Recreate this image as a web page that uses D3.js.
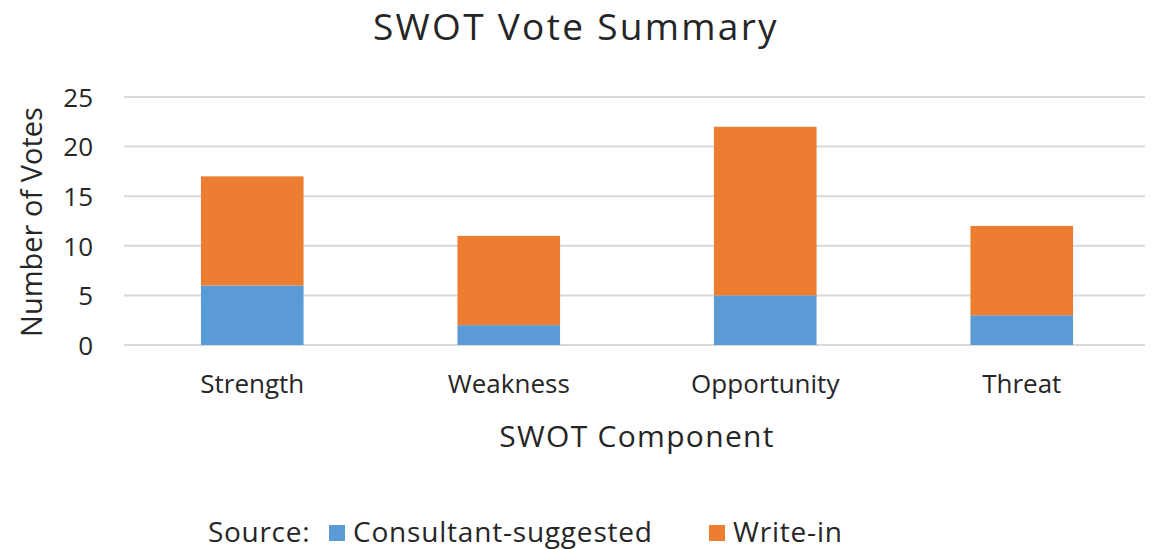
<!DOCTYPE html>
<html><head><meta charset="utf-8">
<script src="https://cdn.jsdelivr.net/npm/d3@7"></script>
<style>body{margin:0;background:#fff}svg{display:block}text{font-family:"Open Sans",sans-serif;fill:#262626}</style>
</head><body><svg id="c" width="1153" height="549"></svg>
<script>
const categories = ["Strength","Weakness","Opportunity","Threat"];
const consultant = [6,2,5,3];
const writeIn = [11,9,17,9];
const yTicks = [0,5,10,15,20,25];
const seriesNames = ["Consultant-suggested","Write-in"];
const colors = ["#5b9bd5","#ed7d31"];

const svg = d3.select("#c");
const x = d3.scaleBand().domain(categories).range([124,1150]).paddingInner(0.6).paddingOuter(0.3);
const y = d3.scaleLinear().domain([0,25]).range([345,97]);

svg.append("g").selectAll("line").data(yTicks).join("line")
  .attr("x1",124).attr("x2",1145).attr("y1",d=>y(d)).attr("y2",d=>y(d))
  .attr("stroke","#d9d9d9").attr("stroke-width",2);

const rows = categories.map((c,i)=>({cat:c, "Consultant-suggested":consultant[i], "Write-in":writeIn[i]}));
const stacked = d3.stack().keys(seriesNames)(rows);
svg.append("g").selectAll("g").data(stacked).join("g").attr("fill",(d,i)=>colors[i])
  .selectAll("rect").data(d=>d).join("rect")
  .attr("x",d=>x(d.data.cat)).attr("width",x.bandwidth())
  .attr("y",d=>y(d[1])).attr("height",d=>y(d[0])-y(d[1]));

const yAxis = svg.append("g").attr("transform","translate(93,0)")
  .call(d3.axisLeft(y).tickValues(yTicks).tickSize(0).tickPadding(0));
yAxis.select(".domain").remove();
yAxis.selectAll("text").style("font-size","26px").attr("fill","#404040").attr("dy","0.36em");

const xAxis = svg.append("g").attr("transform","translate(0,393)")
  .call(d3.axisBottom(x).tickSize(0).tickPadding(0));
xAxis.select(".domain").remove();
xAxis.selectAll("text").style("font-size","26px").attr("fill","#404040").attr("dy","0");

svg.append("text").attr("x",576).attr("y",40).attr("text-anchor","middle").style("font-size","37px").style("letter-spacing","2.3px").text("SWOT Vote Summary");
svg.append("text").attr("x",637).attr("y",447).attr("text-anchor","middle").style("font-size","30px").style("letter-spacing","1.3px").text("SWOT Component");
svg.append("text").attr("transform","translate(42,222) rotate(-90)").attr("text-anchor","middle").style("font-size","29px").text("Number of Votes");

const lg = svg.append("g");
lg.append("text").attr("x",208).attr("y",542).style("font-size","28px").style("letter-spacing","0.7px").text("Source:");
const lx = [329,709];
seriesNames.forEach((n,i)=>{
  lg.append("rect").attr("x",lx[i]).attr("y",525).attr("width",16).attr("height",16).attr("fill",colors[i]);
  lg.append("text").attr("x",lx[i]+24).attr("y",542).style("font-size","28px").style("letter-spacing","0.8px").text(n);
});
</script></body></html>
